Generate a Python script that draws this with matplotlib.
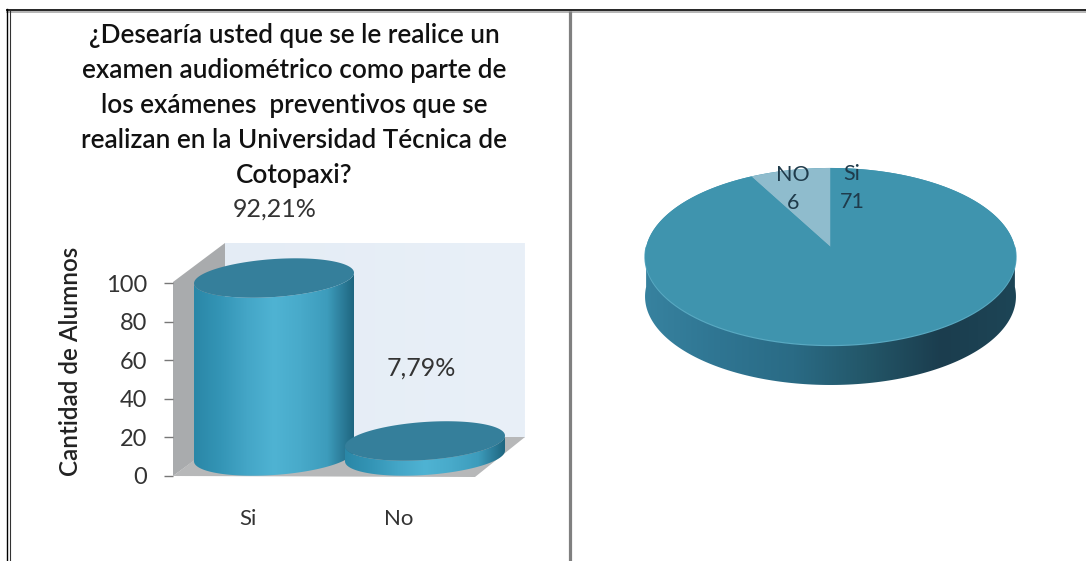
import matplotlib
matplotlib.use('Agg')
import matplotlib.pyplot as plt
import numpy as np

plt.rcParams['font.family'] = ['Lato', 'DejaVu Sans']

TITLE = ('¿Desearía usted que se le realice un\n'
         'examen audiométrico como parte de\n'
         'los exámenes  preventivos que se\n'
         'realizan en la Universidad Técnica de\n'
         'Cotopaxi?')
Y_LABEL = 'Cantidad de Alumnos'
Y_TICKS = [0, 20, 40, 60, 80, 100]

bar_categories = ['Si', 'No']
bar_percent = [92.21, 7.79]
bar_tick_positions = [248, 399]

pie_labels = ['NO', 'Si']
pie_counts = [6, 71]

W, H = 1086, 561
PX_PER_UNIT = 1.93
ZERO_PX = 476

fig = plt.figure(figsize=(W / 100, H / 100), dpi=100, facecolor='white')

# page layer in pixel coordinates: frame, 3D walls, title, pie
page = fig.add_axes([0, 0, 1, 1], zorder=1)
page.set_xlim(0, W)
page.set_ylim(H, 0)
page.axis('off')

# chart layer uses the same area, y runs in percent
ax = fig.add_axes([0, 0, 1, 1], zorder=2)
ax.patch.set_alpha(0)
ax.set_xlim(0, W)
ax.set_ylim((ZERO_PX - H) / PX_PER_UNIT, ZERO_PX / PX_PER_UNIT)


def gradient_fill(axes, xs, ys, stops, zorder=3):
    # paint a left-to-right colour ramp clipped to the polygon xs, ys
    poly = axes.fill(xs, ys, color='none', lw=0, zorder=zorder)[0]
    cmap = matplotlib.colors.LinearSegmentedColormap.from_list('ramp', stops)
    ramp = np.linspace(0, 1, 256).reshape(1, -1)
    xlim, ylim = axes.get_xlim(), axes.get_ylim()
    im = axes.imshow(ramp, cmap=cmap, aspect='auto', zorder=zorder,
                     extent=[min(xs), max(xs), min(ys), max(ys)], origin='lower')
    im.set_clip_path(poly)
    axes.set_xlim(xlim)
    axes.set_ylim(ylim)


# frame
page.plot([6, W], [9.5, 9.5], color='black', lw=1.2, solid_capstyle='butt')
page.plot([6, W], [11.5, 11.5], color='#a8a8a8', lw=1.2, solid_capstyle='butt')
page.plot([6.5, 6.5], [9, H], color='black', lw=1.0)
page.plot([10, 10], [11, H], color='#333333', lw=0.8)
page.plot([569.5, 569.5], [11, H], color='#808080', lw=2.3, solid_capstyle='butt')

# title and category chart back walls
page.text(294, 105, TITLE, ha='center', va='center', fontsize=18.8,
          fontweight='semibold', color='#111111', linespacing=1.5)
gradient_fill(page, [225, 525, 525, 225], [243, 243, 438, 438],
              ['#e4ecf5', '#e9f0f8'], zorder=1)
page.fill([173, 225, 225, 173], [282, 243, 438, 476], color='#a9abad', lw=0, zorder=2)
page.fill([173, 225, 525, 475], [476, 437, 437, 477], color='#b7b8b9', lw=0, zorder=2)

# percent axis
for side in ['top', 'right', 'left']:
    ax.spines[side].set_visible(False)
ax.spines['bottom'].set_visible(False)
ax.spines['left'].set_position(('data', 173))
ax.spines['bottom'].set_position(('data', 0))
ax.set_yticks(Y_TICKS)
ax.set_yticklabels([str(t) for t in Y_TICKS], fontsize=17, color='#333333')
ax.tick_params(axis='y', length=6.5, width=1, color='#777777', pad=12)
ax.set_xticks(bar_tick_positions)
ax.set_xticklabels(bar_categories, fontsize=16, color='#333333')
ax.tick_params(axis='x', length=0, pad=24)
ax.text(71, 59.6, Y_LABEL, rotation=90, ha='center', va='center', fontsize=17.5,
        fontweight='semibold', color='#222222')


def ellipse_points(cx, cy, rx, ry, tilt, t):
    # tilted ellipse, rx in pixels, ry and cy in percent units
    x = cx + rx * np.cos(t)
    y = cy + ry * np.sin(t) + rx * np.cos(t) * np.tan(tilt) / PX_PER_UNIT
    return x, y


def cylinder(cx, value, rx=80, ry_px=19, tilt_deg=3.8, base_px=20):
    ry = ry_px / PX_PER_UNIT
    tilt = np.radians(tilt_deg)
    base = base_px / PX_PER_UNIT
    top = base + value
    t_low = np.linspace(np.pi, 2 * np.pi, 80)
    bx, by = ellipse_points(cx, base, rx, ry, tilt, t_low)
    tx, ty = ellipse_points(cx, top, rx, ry, tilt, t_low[::-1])
    gradient_fill(ax, np.r_[bx, tx], np.r_[by, ty],
                  ['#2a87a7', '#3495b6', '#44a6c7', '#4fb3d3', '#48aaca',
                   '#3d9cbc', '#1f6680'])
    t = np.linspace(0, 2 * np.pi, 160)
    ex, ey = ellipse_points(cx, top, rx, ry, tilt, t)
    ax.fill(ex, ey, color='#357f9b', lw=0, zorder=4)


for pos, pct in zip([274, 425], bar_percent):
    cylinder(pos, pct)

bar_labels = [f'{p:.2f}%'.replace('.', ',') for p in bar_percent]
ax.text(275, bar_percent[0] + 46, bar_labels[0], ha='center', va='center',
        fontsize=18, color='#333333')
ax.text(421, bar_percent[1] + 48, bar_labels[1], ha='center', va='center',
        fontsize=18, color='#333333')

# perspective pie: tip at (830, 247), far rim compressed
PIE_CX, PIE_CY = 830.5, 247
PIE_A, PIE_B, PIE_K = 87.5, 184.4, 0.107
PIE_DEPTH = 40


def pie_xy(frac_start, frac_end, n=120):
    # slices run counterclockwise from twelve o'clock
    t = np.pi / 2 + 2 * np.pi * np.linspace(frac_start, frac_end, n)
    x, y = np.cos(t), np.sin(t)
    d = 1 + PIE_K * y
    return PIE_CX + PIE_B * x / d, PIE_CY - PIE_A * y / d


rim_x, rim_y = pie_xy(0, 1, 360)
side_x, side_y = pie_xy(0.25, 0.75, 160)
gradient_fill(page, np.r_[side_x, side_x[::-1]], np.r_[side_y, side_y[::-1] + PIE_DEPTH],
              ['#37829f', '#2f7592', '#2a6b85', '#235668', '#1b3d4e', '#1d4556'], zorder=3)
page.fill(rim_x, rim_y, color='#3f94ae', lw=0, zorder=4)
page.plot(side_x, side_y + 0.5, color='#58a9c2', lw=1, zorder=5)

fracs = np.cumsum([0] + pie_counts) / sum(pie_counts)
pie_colors = ['#8fbccd', '#3f94ae']
for i, c in enumerate(pie_colors):
    sx, sy = pie_xy(fracs[i], fracs[i + 1])
    page.fill(np.r_[PIE_CX, sx], np.r_[PIE_CY, sy], color=c, lw=0, zorder=5)

page.text(793, 189, f'{pie_labels[0]}\n{pie_counts[0]}', ha='center', va='center',
          fontsize=15.5, color='#1f3b4b', linespacing=1.55, zorder=6)
page.text(852, 188, f'{pie_labels[1]}\n{pie_counts[1]}', ha='center', va='center',
          fontsize=15.5, color='#1f3b4b', linespacing=1.55, zorder=6)

fig.savefig('out.png', dpi=100)
